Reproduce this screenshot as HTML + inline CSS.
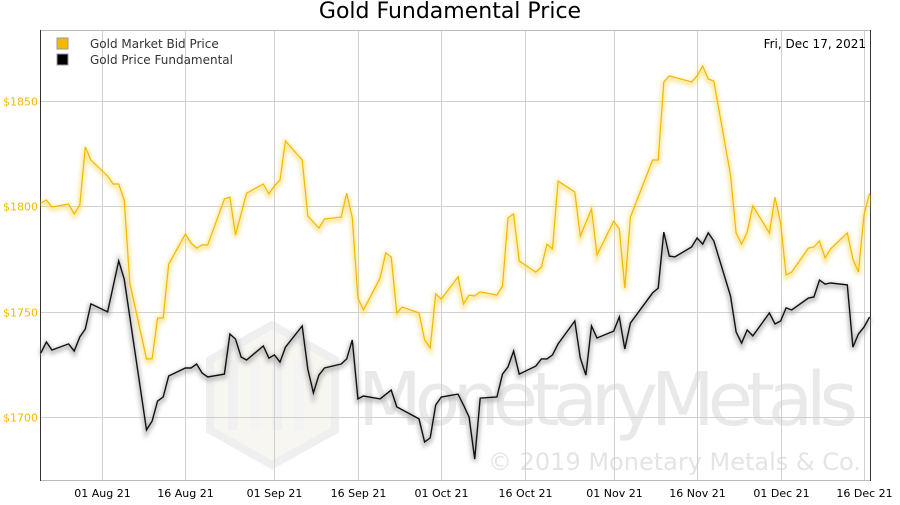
<!DOCTYPE html>
<html><head><meta charset="utf-8"><style>
body{margin:0;background:#fff;}
svg text{font-family:"DejaVu Sans","Liberation Sans",sans-serif;}
</style></head><body>
<svg id="chart" width="900" height="500" xmlns="http://www.w3.org/2000/svg">
<defs>
<filter id="glowY" x="-5%" y="-5%" width="110%" height="120%"><feGaussianBlur stdDeviation="2"/></filter>
</defs>
<rect width="900" height="500" fill="#fff"/>
<text x="450" y="18" text-anchor="middle" font-size="22" fill="#000">Gold Fundamental Price</text>
<g id="watermark" opacity="0.55">
<polygon points="272,325 335,360 335,430 272,465 210,430 210,360" fill="#f3f0e6" stroke="#e2e2e2" stroke-width="8"/>
<rect x="228" y="360" width="10" height="70" fill="#e6e6e6"/><rect x="250" y="360" width="10" height="70" fill="#ececec"/><rect x="272" y="360" width="10" height="70" fill="#e6e6e6"/><rect x="294" y="360" width="10" height="70" fill="#ececec"/>
<text x="358" y="425" font-size="74" fill="#d8d8d8" font-family="Liberation Sans, sans-serif" textLength="500">MonetaryMetals</text>
<text x="488" y="470" font-size="24" fill="#cfcfcf">© 2019 Monetary Metals &amp; Co.</text>
</g>
<g id="grid"></g>
<rect x="40.5" y="30.5" width="830" height="450" fill="none" stroke="#bbb"/>
<line x1="40.5" y1="30" x2="40.5" y2="481" stroke="#333"/>
<line x1="870.5" y1="30" x2="870.5" y2="481" stroke="#333"/>
<g id="axes"></g>
<g id="series"></g>
<g>
<rect x="57" y="38" width="11" height="11" fill="#f5b800" stroke="#999"/>
<text x="90" y="48" font-size="12" fill="#333">Gold Market Bid Price</text>
<rect x="57" y="54" width="11" height="11" fill="#000" stroke="#999"/>
<text x="90" y="64" font-size="12" fill="#333">Gold Price Fundamental</text>
</g>
<text x="866" y="48" text-anchor="end" font-size="12" fill="#000">Fri, Dec 17, 2021</text>
</svg>
<script>
const yTicks=[1700,1750,1800,1850];
const xTickDays=[0,15,31,46,61,76,92,107,122,137];
const xTickLabels=["01 Aug 21","16 Aug 21","01 Sep 21","16 Sep 21","01 Oct 21","16 Oct 21","01 Nov 21","16 Nov 21","01 Dec 21","16 Dec 21"];
const goldDays=[-11,-10,-9,-6,-5,-4,-3,-2,1,2,3,4,5,8,9,10,11,12,15,16,17,18,19,22,23,24,26,29,30,31,32,33,36,37,39,40,43,44,45,46,47,50,51,52,53,54,57,58,59,60,61,64,65,66,67,68,71,72,73,74,75,78,79,80,81,82,85,86,88,89,92,93,94,95,99,100,101,102,106,107,108,109,110,113,114,115,116,117,120,121,122,123,124,127,128,129,130,131,134,135,136,137,138];
const goldValues=[1801.6,1803,1799.7,1801.1,1796.4,1800.6,1828.2,1822,1814.4,1810.6,1810.6,1803,1763.6,1727.6,1727.6,1747,1747,1772.6,1786.9,1782.6,1780.2,1781.7,1781.7,1803.5,1804.4,1786.4,1806.3,1810.6,1805.9,1809.7,1812.5,1831,1822,1795.4,1789.7,1794,1794.9,1806.3,1794.5,1756.5,1750.8,1766,1777.9,1776,1749.4,1752.2,1749.4,1736.6,1732.8,1758.4,1756,1766.5,1753.7,1757.9,1757.5,1759.4,1757.9,1762.2,1794.5,1796.4,1774.1,1768.8,1771.2,1782.1,1779.8,1812,1806.8,1785.9,1798.7,1776.9,1793,1789.3,1761.2,1794.9,1822,1822,1859,1861.9,1859,1861.9,1866.6,1860.4,1859.5,1814.9,1787.4,1782.1,1787.8,1800.2,1787.4,1804.4,1792.1,1767.4,1768.8,1780.2,1780.7,1783.6,1775.5,1779.8,1787.4,1775,1768.8,1795.9,1806.3];
const fundDays=[-11,-10,-9,-6,-5,-4,-3,-2,1,3,4,8,9,10,11,12,15,16,17,18,19,22,23,24,25,26,29,30,31,32,33,36,37,38,39,40,43,44,45,46,47,50,52,53,57,58,59,60,61,64,65,66,67,68,71,72,73,74,75,78,79,80,81,82,85,86,87,88,89,92,93,94,95,99,100,101,102,103,106,107,108,109,110,113,114,115,116,117,120,121,122,123,124,127,128,129,130,131,134,135,136,137,138];
const fundValues=[1730.4,1735.6,1731.8,1734.7,1731.3,1738,1741.8,1753.7,1749.9,1774.1,1765.5,1693.9,1698.1,1707.6,1709.5,1719.5,1723.3,1723.3,1725.2,1720.9,1719,1720.4,1739.4,1737,1728.5,1727.1,1733.7,1728,1729.5,1726.1,1733.2,1743.2,1722.8,1711.4,1719.9,1723.3,1725.2,1727.6,1736.6,1708.6,1710,1708.6,1712.8,1704.8,1699.1,1688.2,1690.1,1705.7,1709.5,1710.9,1705.7,1700,1680.1,1709,1709.5,1720.4,1723.8,1731.3,1720.4,1724.2,1727.6,1727.6,1729.5,1734.7,1745.6,1728,1719.9,1743.2,1737.5,1740.8,1747.5,1732.3,1744.6,1758.9,1761.2,1787.8,1776.4,1776,1780.7,1785,1782.1,1787.4,1783.6,1757.5,1740.4,1735.1,1741.3,1738.5,1749.4,1744.2,1745.6,1751.8,1750.8,1756.5,1757,1765,1763.1,1763.6,1762.7,1733.2,1739.4,1742.7,1747.5];

const NS="http://www.w3.org/2000/svg";
const X0=102, PXD=5.562, Y1850=101, PXV=2.107;
function xs(d){return X0+d*PXD;}
function ys(v){return Y1850+(1850-v)*PXV;}
function mk(tag,attrs,parent){const e=document.createElementNS(NS,tag);for(const k in attrs)e.setAttribute(k,attrs[k]);parent.appendChild(e);return e;}
const grid=document.getElementById('grid'), axes=document.getElementById('axes'), series=document.getElementById('series');
yTicks.forEach(v=>{
  const y=Math.round(ys(v))+0.5;
  const l=mk('line',{x1:40,x2:870,y1:y,y2:y,stroke:'#d0d0d0'},grid);
  
  
  const t=mk('text',{x:3,y:y+4,'font-size':11,fill:'#f5b800'},axes);
  
  
  t.textContent='$'+v;
});
xTickDays.forEach((d,i)=>{
  const x=Math.round(xs(d))+0.5;
  const l=mk('line',{x1:x,x2:x,y1:30,y2:480,stroke:'#d0d0d0'},grid);
  
  
  const t=mk('text',{x:x,y:497,'font-size':11,fill:'#000','text-anchor':'middle'},axes);
  
  
  t.textContent=xTickLabels[i];
});
function pts(days,vals){return days.map((d,i)=>xs(d).toFixed(1)+','+ys(vals[i]).toFixed(1)).join(' ');}
const gp=pts(goldDays,goldValues), fp=pts(fundDays,fundValues);
const gs=mk('polyline',{points:gp,fill:'none',stroke:'#f5d860','stroke-width':5,'stroke-opacity':0.6,filter:'url(#glowY)',transform:'translate(0,2)'},series);


const fs=mk('polyline',{points:fp,fill:'none',stroke:'#999','stroke-width':5,'stroke-opacity':0.6,filter:'url(#glowY)',transform:'translate(0,2)'},series);


const g=mk('polyline',{points:gp,fill:'none',stroke:'#f5b800','stroke-width':1.2},series);


const f=mk('polyline',{points:fp,fill:'none',stroke:'#111','stroke-width':1.4},series);


</script>
</body></html>
